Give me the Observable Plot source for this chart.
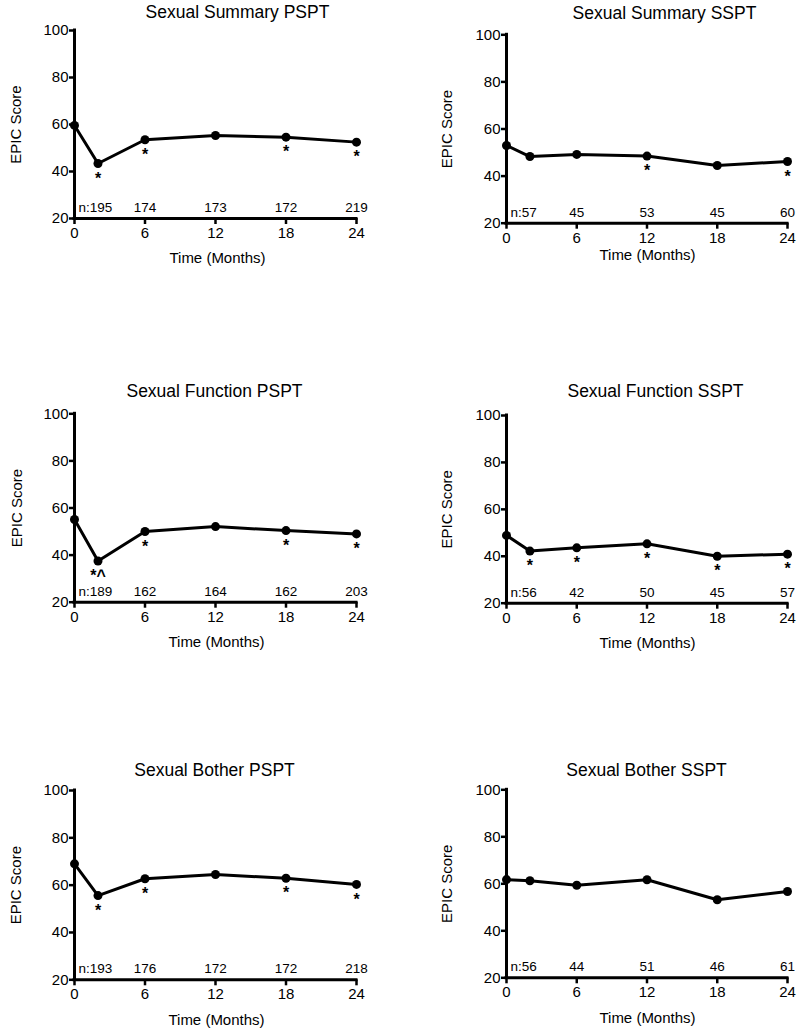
<!DOCTYPE html>
<html><head><meta charset="utf-8">
<script src="https://cdn.jsdelivr.net/npm/d3@7"></script>
<script src="https://cdn.jsdelivr.net/npm/@observablehq/plot@0.6"></script>
<style>
body{margin:0;background:#fff}
#chart{position:relative;width:800px;height:1033px;background:#fff}
.panel{position:absolute}
</style>
</head><body><div id="chart"></div>
<script>
// ---- data ----
const months = [0, 2, 6, 12, 18, 24];
const nMonths = [0, 6, 12, 18, 24];
const xTicks = [0, 6, 12, 18, 24];
const yTicks = [20, 40, 60, 80, 100];

const summaryPSPT = [59.6, 43.4, 53.5, 55.3, 54.6, 52.5];
const summarySSPT = [53.0, 48.3, 49.2, 48.5, 44.5, 46.2];
const functionPSPT = [55.1, 37.5, 50.0, 52.1, 50.4, 49.0];
const functionSSPT = [48.9, 42.2, 43.6, 45.3, 40.0, 40.9];
const botherPSPT = [69.0, 55.6, 62.7, 64.5, 62.9, 60.3];
const botherSSPT = [61.8, 61.3, 59.4, 61.7, 53.2, 56.7];

const summaryPSPTSig = ["", "*", "*", "", "*", "*"];
const summarySSPTSig = ["", "", "", "*", "", "*"];
const functionPSPTSig = ["", "*^", "*", "", "*", "*"];
const functionSSPTSig = ["", "*", "*", "*", "*", "*"];
const botherPSPTSig = ["", "*", "*", "", "*", "*"];
const botherSSPTSig = ["", "", "", "", "", ""];

const summaryPSPTn = [195, 174, 173, 172, 219];
const summarySSPTn = [57, 45, 53, 45, 60];
const functionPSPTn = [189, 162, 164, 162, 203];
const functionSSPTn = [56, 42, 50, 45, 57];
const botherPSPTn = [193, 176, 172, 172, 218];
const botherSSPTn = [56, 44, 51, 46, 61];

const titles = ["Sexual Summary PSPT", "Sexual Summary SSPT", "Sexual Function PSPT", "Sexual Function SSPT", "Sexual Bother PSPT", "Sexual Bother SSPT"];
const xLabel = "Time (Months)";
const yLabel = "EPIC Score";

// ---- layout (pixel geometry of each panel) ----
const layouts = [
  {left:0,   top:0,   height:280, axisX:74,  xEnd:356, yTop:30,    yBottom:218,   titleX:237, titleY:12,    xLabelX:217, xLabelY:257.5,  yLabelX:16},
  {left:400, top:0,   height:280, axisX:506, xEnd:787, yTop:34.3,  yBottom:222.7, titleX:664, titleY:12.5,  xLabelX:647, xLabelY:255,    yLabelX:447},
  {left:0,   top:340, height:320, axisX:74,  xEnd:356, yTop:413.3, yBottom:601.7, titleX:214, titleY:390.5, xLabelX:216, xLabelY:641.5,  yLabelX:16.5},
  {left:400, top:340, height:320, axisX:506, xEnd:787, yTop:415,   yBottom:602.7, titleX:655, titleY:390.5, xLabelX:647, xLabelY:642.5,  yLabelX:447},
  {left:0,   top:690, height:343, axisX:74,  xEnd:356, yTop:790,   yBottom:979.3, titleX:214, titleY:769.5, xLabelX:216, xLabelY:1019.5, yLabelX:16},
  {left:400, top:690, height:343, axisX:506, xEnd:787, yTop:789.3, yBottom:977.3, titleX:646, titleY:769.5, xLabelX:647, xLabelY:1017.5, yLabelX:447}
];

const series = [summaryPSPT, summarySSPT, functionPSPT, functionSSPT, botherPSPT, botherSSPT];
const sigs = [summaryPSPTSig, summarySSPTSig, functionPSPTSig, functionSSPTSig, botherPSPTSig, botherSSPTSig];
const ns = [summaryPSPTn, summarySSPTn, functionPSPTn, functionSSPTn, botherPSPTn, botherSSPTn];

const font = "'Liberation Sans', Arial, Helvetica, sans-serif";
const container = document.getElementById("chart");

titles.forEach((title, k) => {
  const L = layouts[k];
  const rows = months.map((m, i) => ({month: m, score: series[k][i], sig: sigs[k][i]}));
  const nRows = nMonths.map((m, i) => ({month: m, label: (i === 0 ? "n:" : "") + ns[k][i]}));
  const chart = Plot.plot({
    width: 400,
    height: L.height,
    marginLeft: L.axisX - L.left,
    marginRight: L.left + 400 - L.xEnd,
    marginTop: L.yTop - L.top,
    marginBottom: L.top + L.height - L.yBottom,
    x: {domain: [0, 24]},
    y: {domain: [20, 100]},
    style: {fontFamily: font, fontSize: "15px", color: "#000", background: "transparent", overflow: "visible"},
    marks: [
      Plot.axisY({ticks: yTicks, tickSize: 5, tickPadding: 1, fontSize: 15, label: null, strokeWidth: 2.5}),
      Plot.axisX({ticks: xTicks, tickSize: 6, tickPadding: 3, fontSize: 15, label: null, strokeWidth: 2.5}),
      Plot.ruleX([0], {strokeWidth: 3, strokeLinecap: "square"}),
      Plot.ruleY([20], {strokeWidth: 3, strokeLinecap: "square"}),
      Plot.line(rows, {x: "month", y: "score", strokeWidth: 3}),
      Plot.dot(rows, {x: "month", y: "score", r: 4.5, fill: "#000", stroke: null}),
      Plot.text(rows.filter(d => d.sig), {x: "month", y: "score", text: "sig", dy: 15, fontSize: 16, fontWeight: "bold"}),
      Plot.text(nRows.slice(0, 1), {x: "month", text: "label", frameAnchor: "bottom", lineAnchor: "middle", dy: -11, dx: 4, textAnchor: "start", fontSize: 13.5}),
      Plot.text(nRows.slice(1), {x: "month", text: "label", frameAnchor: "bottom", lineAnchor: "middle", textAnchor: "middle", dy: -11, fontSize: 13.5}),
      Plot.text([title], {text: d => d, frameAnchor: "top-left", textAnchor: "middle", lineAnchor: "middle", dx: L.titleX - L.axisX, dy: L.titleY - L.yTop, fontSize: 17.5}),
      Plot.text([xLabel], {text: d => d, frameAnchor: "bottom-left", textAnchor: "middle", lineAnchor: "middle", dx: L.xLabelX - L.axisX, dy: L.xLabelY - L.yBottom, fontSize: 15}),
      Plot.text([yLabel], {text: d => d, frameAnchor: "left", textAnchor: "middle", lineAnchor: "middle", dx: L.yLabelX - L.axisX, rotate: -90, fontSize: 15})
    ]
  });
  chart.classList.add("panel");
  chart.style.left = L.left + "px";
  chart.style.top = L.top + "px";
  container.appendChild(chart);
});
</script>
</body></html>
